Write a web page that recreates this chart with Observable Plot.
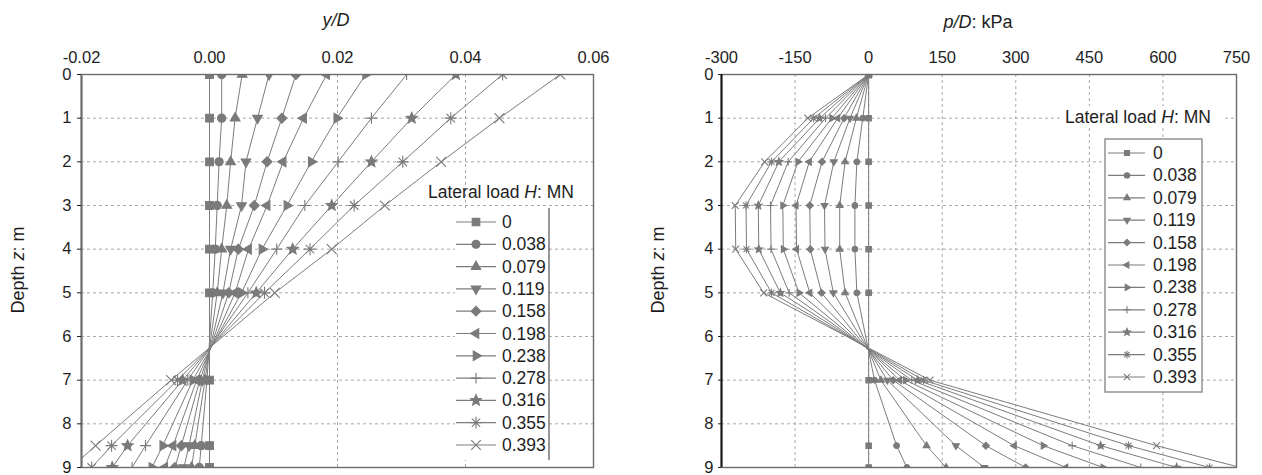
<!DOCTYPE html>
<html><head><meta charset="utf-8">
<script src="https://cdn.jsdelivr.net/npm/d3@7"></script>
<script src="https://cdn.jsdelivr.net/npm/@observablehq/plot@0.6"></script>
<style>
body{margin:0;background:#fff;width:1262px;height:475px;overflow:hidden;position:relative;font-family:"Liberation Sans",Arial,sans-serif;}
#left{position:absolute;left:0;top:0;}
#right{position:absolute;left:640px;top:0;}
</style></head><body>
<div id="left"></div><div id="right"></div>
<script>
// ---------- data ----------
const loads = ["0","0.038","0.079","0.119","0.158","0.198","0.238","0.278","0.316","0.355","0.393"];
const depths = [0, 1, 2, 3, 4, 5, 7, 8.5, 9];
// y/D by depth row (columns follow loads)
const yD_rows = [
  [0, 0.0019, 0.0051, 0.0093, 0.0135, 0.0183, 0.0244, 0.0308, 0.0385, 0.0458, 0.0548],
  [0, 0.0019, 0.0040, 0.0075, 0.0113, 0.0147, 0.0199, 0.0253, 0.0316, 0.0377, 0.0453],
  [0, 0.0015, 0.0033, 0.0057, 0.0090, 0.0115, 0.0159, 0.0201, 0.0253, 0.0302, 0.0362],
  [0, 0.0012, 0.0027, 0.0050, 0.0070, 0.0090, 0.0121, 0.0149, 0.0191, 0.0226, 0.0274],
  [0, 0.0009, 0.0019, 0.0033, 0.0045, 0.0061, 0.0082, 0.0105, 0.0130, 0.0157, 0.0191],
  [0, 0.0005, 0.0012, 0.0021, 0.0030, 0.0040, 0.0050, 0.0060, 0.0073, 0.0086, 0.0102],
  [0, -0.0004, -0.0007, -0.0011, -0.0015, -0.0020, -0.0026, -0.0034, -0.0042, -0.0050, -0.0060],
  [0, -0.0013, -0.0023, -0.0032, -0.0044, -0.0057, -0.0073, -0.0100, -0.0128, -0.0153, -0.0178],
  [0, -0.0016, -0.0028, -0.0040, -0.0054, -0.0070, -0.0090, -0.0121, -0.0152, -0.0184, -0.0216]
];
// p/D (kPa) by depth row
const pD_rows = [
  [0, 0, 0, 0, 0, 0, 0, 0, 0, 0, 0],
  [0, -12, -25, -38, -50, -63, -75, -88, -100, -112, -124],
  [0, -24, -48, -71, -95, -121, -144, -164, -183, -198, -212],
  [0, -28, -59, -90, -120, -148, -175, -200, -225, -250, -272],
  [0, -28, -59, -89, -119, -147, -174, -199, -224, -249, -271],
  [0, -24, -48, -72, -96, -120, -142, -162, -180, -198, -214],
  [0, 12, 25, 38, 50, 63, 75, 88, 100, 112, 125],
  [0, 57, 118, 178, 239, 297, 356, 415, 473, 530, 587],
  [0, 78, 158, 236, 320, 402, 478, 555, 628, 695, 758]
];
const depthTicks = [0, 1, 2, 3, 4, 5, 6, 7, 8, 9];
const yDTicks = [-0.02, 0, 0.02, 0.04, 0.06];
const pDTicks = [-300, -150, 0, 150, 300, 450, 600, 750];

// ---------- symbols ----------
const PI = Math.PI;
const rad = s => Math.sqrt(s / PI);
const tri = ang => ({draw(c, s) { const r = rad(s) * 1.3;
  for (let k = 0; k < 3; k++) { const a = ang + k * 2 * PI / 3, x = r * Math.cos(a), y = r * Math.sin(a); k ? c.lineTo(x, y) : c.moveTo(x, y); }
  c.closePath(); }});
const symbols = [
  {draw(c, s) { const h = rad(s) * 0.9; c.rect(-h, -h, 2 * h, 2 * h); }},
  {draw(c, s) { const r = rad(s) * 0.95; c.moveTo(r, 0); c.arc(0, 0, r, 0, 2 * PI); }},
  tri(-PI / 2),
  tri(PI / 2),
  {draw(c, s) { const r = rad(s) * 1.15; c.moveTo(0, -r); c.lineTo(r, 0); c.lineTo(0, r); c.lineTo(-r, 0); c.closePath(); }},
  tri(PI),
  tri(0),
  {draw(c, s) { const r = rad(s) * 1.3; c.moveTo(-r, 0); c.lineTo(r, 0); c.moveTo(0, -r); c.lineTo(0, r); }},
  {draw(c, s) { const R = rad(s) * 1.35, q = R * 0.45;
    for (let k = 0; k < 10; k++) { const a = -PI / 2 + k * PI / 5, rr = k % 2 ? q : R; const x = rr * Math.cos(a), y = rr * Math.sin(a); k ? c.lineTo(x, y) : c.moveTo(x, y); }
    c.closePath(); }},
  {draw(c, s) { const r = rad(s) * 1.4;
    for (let k = 0; k < 4; k++) { const a = k * PI / 4; c.moveTo(-r * Math.cos(a), -r * Math.sin(a)); c.lineTo(r * Math.cos(a), r * Math.sin(a)); } }},
  {draw(c, s) { const r = rad(s) * 1.15; c.moveTo(-r, -r); c.lineTo(r, r); c.moveTo(-r, r); c.lineTo(r, -r); }}
];

// ---------- tidy tables ----------
function tidy(rows) {
  const out = [];
  loads.forEach((H, j) => depths.forEach((z, i) => out.push({H, z, v: rows[i][j]})));
  return out;
}
const yD = tidy(yD_rows);
const pD = tidy(pD_rows);

const FONT = '"Liberation Sans", Arial, sans-serif';
const LINE = "#7c7c7c", MARK = "#7a7a7a", GRID = "#a8a8a8";

function chart({data, width, marginLeft, marginRight, xDomain, xTicks, fmt, r, axisColor, tickSize, tickPadding}) {
  return Plot.plot({
    width, height: 475, marginTop: 74, marginBottom: 8, marginLeft, marginRight,
    style: {fontSize: "16.5px", fontFamily: FONT, color: "#1e1e1e", background: "#fff", overflow: "visible"},
    x: {domain: xDomain},
    y: {domain: [0, 9], reverse: true},
    symbol: {domain: loads, range: symbols, legend: false},
    marks: [
      Plot.gridX(xTicks, {stroke: GRID, strokeOpacity: 1, strokeDasharray: "3,3"}),
      Plot.gridY(depthTicks, {stroke: GRID, strokeOpacity: 1, strokeDasharray: "3,3"}),
      Plot.line(data, {x: "v", y: "z", z: "H", stroke: LINE, strokeWidth: 1, clip: true}),
      Plot.dot(data, {x: "v", y: "z", symbol: "H", r, fill: MARK, stroke: MARK, strokeWidth: 1.1, clip: true}),
      Plot.frame({stroke: "#6c6c6c", strokeWidth: 1.4}),
      Plot.ruleX([xDomain[0]], {stroke: axisColor, strokeWidth: 2}),
      Plot.axisX(xTicks, {anchor: "top", tickSize: 0, tickPadding: 12, tickFormat: fmt, label: null}),
      Plot.axisY(depthTicks, {anchor: "left", tickSize, tickPadding, label: null})
    ]
  });
}

function addText(svg, x, y, parts, opts = {}) {
  const t = d3.select(svg).append("text")
    .attr("x", x).attr("y", y)
    .attr("font-family", FONT).attr("font-size", opts.size || 18)
    .attr("fill", "#1e1e1e")
    .attr("text-anchor", opts.anchor || "middle")
    .attr("dominant-baseline", "central");
  if (opts.rotate) t.attr("transform", `rotate(-90 ${x} ${y})`);
  parts.forEach(([s, it]) => t.append("tspan").attr("font-style", it ? "italic" : "normal").text(s));
  return t;
}

function legend(svg, o) {
  const g = d3.select(svg).append("g");
  if (o.titleBg) g.append("rect").attr("x", o.titleBg[0]).attr("y", o.titleBg[1]).attr("width", o.titleBg[2]).attr("height", o.titleBg[3]).attr("fill", "#fff");
  g.append("rect").attr("x", o.box[0]).attr("y", o.box[1]).attr("width", o.box[2]).attr("height", o.box[3])
    .attr("fill", "#fff").attr("stroke", o.fullBorder ? "#8a8a8a" : "none").attr("stroke-width", 1.4);
  if (!o.fullBorder) g.append("line").attr("x1", o.box[0] + o.box[2]).attr("x2", o.box[0] + o.box[2])
    .attr("y1", o.box[1]).attr("y2", o.box[1] + o.box[3]).attr("stroke", "#6c6c6c").attr("stroke-width", 1.4);
  addText(svg, o.titleX, o.titleY, [["Lateral load ", false], ["H", true], [": MN", false]], {anchor: "start", size: o.size});
  loads.forEach((H, i) => {
    const y = o.y0 + i * o.dy;
    g.append("line").attr("x1", o.seg[0]).attr("x2", o.seg[1]).attr("y1", y).attr("y2", y).attr("stroke", LINE).attr("stroke-width", 1.2);
    g.append("path").attr("transform", `translate(${o.markX},${y})`)
      .attr("d", d3.symbol().type(symbols[i]).size(PI * o.r * o.r)())
      .attr("fill", MARK).attr("stroke", MARK).attr("stroke-width", 1.1);
    addText(svg, o.textX, y, [[H, false]], {anchor: "start", size: o.size});
  });
}

// ---------- left chart ----------
const left = chart({data: yD, width: 640, marginLeft: 81, marginRight: 47, xDomain: [-0.02, 0.06], xTicks: yDTicks,
  fmt: d => d.toFixed(2), r: 4.3, axisColor: "#6c6c6c", tickSize: 4, tickPadding: 6});
addText(left, 336, 20, [["y/D", true]], {size: 18});
addText(left, 18, 270, [["Depth ", false], ["z", true], [": m", false]], {size: 18, rotate: true});
legend(left, {box: [455, 208, 94, 252], fullBorder: false, titleX: 428, titleY: 192, y0: 222, dy: 22.3,
  seg: [456, 496], markX: 476, textX: 502, r: 4.2, size: 17.5});
document.getElementById("left").appendChild(left);

// ---------- right chart ----------
const right = chart({data: pD, width: 622, marginLeft: 81, marginRight: 26, xDomain: [-300, 750], xTicks: pDTicks,
  fmt: d => String(d), r: 3, axisColor: "#111", tickSize: 3, tickPadding: 5});
addText(right, 338, 22, [["p/D", true], [": kPa", false]], {size: 18});
addText(right, 18, 270, [["Depth ", false], ["z", true], [": m", false]], {size: 18, rotate: true});
legend(right, {titleBg: [420, 106, 162, 22], box: [465, 139, 97, 253], fullBorder: true, titleX: 425, titleY: 117, y0: 153, dy: 22.4,
  seg: [468, 505], markX: 487, textX: 513, r: 2.8, size: 17.5});
document.getElementById("right").appendChild(right);
</script>
</body></html>
